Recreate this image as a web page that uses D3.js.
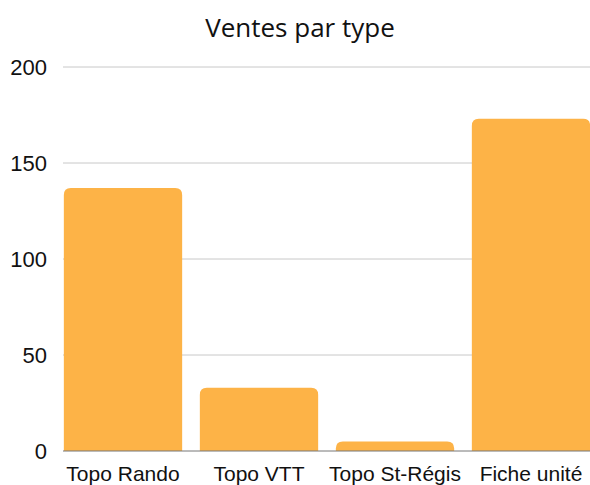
<!DOCTYPE html>
<html>
<head>
<meta charset="utf-8">
<script src="https://cdn.jsdelivr.net/npm/d3@7"></script>
<style>
  body { margin: 0; background: #fff; }
</style>
</head>
<body>
<div id="chart"></div>
<script>
var categories = ["Topo Rando", "Topo VTT", "Topo St-Régis", "Fiche unité"];
var ventes = [137, 33, 5, 173];
var yTicks = [0, 50, 100, 150, 200];

var width = 590,
    height = 485,
    plotLeft = 63,
    plotRight = 590,
    plotTop = 67,
    plotBottom = 451;

var svg = d3.select("#chart").append("svg")
    .attr("width", width)
    .attr("height", height);

var x = d3.scaleBand()
    .domain(categories)
    .range([55, 599])
    .paddingInner(0.13)
    .paddingOuter(0.065);

var y = d3.scaleLinear()
    .domain([0, 200])
    .range([plotBottom, plotTop]);

/* title */
svg.append("text")
    .attr("x", 300)
    .attr("y", 37)
    .attr("text-anchor", "middle")
    .attr("font-family", "'Open Sans', sans-serif")
    .attr("font-size", 26)
    .attr("fill", "#111")
    .text("Ventes par type");

/* gridlines */
svg.append("g")
    .selectAll("line")
    .data(yTicks.filter(function(d) { return d > 0; }))
    .enter().append("line")
    .attr("x1", plotLeft)
    .attr("x2", plotRight)
    .attr("y1", function(d) { return y(d); })
    .attr("y2", function(d) { return y(d); })
    .attr("stroke", "#c8c8c8")
    .attr("stroke-width", 1);

/* y labels */
svg.append("g")
    .selectAll("text")
    .data(yTicks)
    .enter().append("text")
    .attr("x", 47)
    .attr("y", function(d) { return y(d) + 8; })
    .attr("text-anchor", "end")
    .attr("font-family", "'Liberation Sans', Arial, sans-serif")
    .attr("font-size", 22)
    .attr("fill", "#111")
    .text(function(d) { return d; });

/* bars with rounded top */
var r = 7;
svg.append("g")
    .selectAll("path")
    .data(ventes)
    .enter().append("path")
    .attr("fill", "#FDB347")
    .attr("d", function(d, i) {
        var x0 = x(categories[i]),
            w = x.bandwidth(),
            y0 = y(d),
            rr = Math.min(r, (plotBottom - y0) / 1.2);
        return "M" + x0 + "," + plotBottom +
               "V" + (y0 + rr) +
               "Q" + x0 + "," + y0 + " " + (x0 + rr) + "," + y0 +
               "H" + (x0 + w - rr) +
               "Q" + (x0 + w) + "," + y0 + " " + (x0 + w) + "," + (y0 + rr) +
               "V" + plotBottom + "Z";
    });

/* baseline */
svg.append("line")
    .attr("x1", plotLeft)
    .attr("x2", plotRight)
    .attr("y1", y(0))
    .attr("y2", y(0))
    .attr("stroke", "#777")
    .attr("stroke-width", 1);

/* category labels */
svg.append("g")
    .selectAll("text")
    .data(categories)
    .enter().append("text")
    .attr("x", function(d) { return x(d) + x.bandwidth() / 2; })
    .attr("y", 481)
    .attr("text-anchor", "middle")
    .attr("font-family", "'Liberation Sans', Arial, sans-serif")
    .attr("font-size", 21)
    .attr("fill", "#111")
    .text(function(d) { return d; });
</script>
</body>
</html>
